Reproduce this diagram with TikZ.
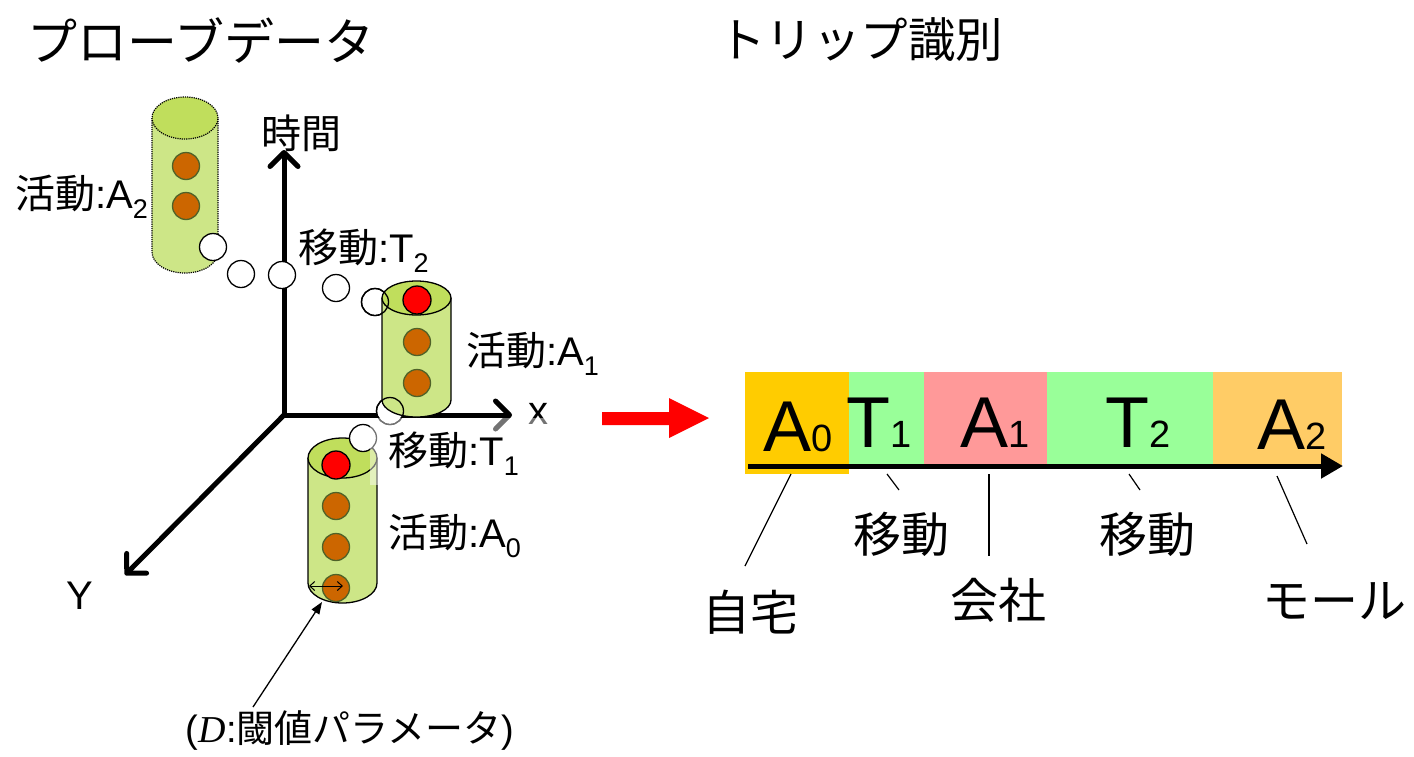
\documentclass[tikz,border=0pt]{standalone}
\usepackage{fontspec}
\setmainfont{Liberation Sans}
\newfontfamily\jp{Noto Sans CJK JP}
\newfontfamily\tms{Liberation Serif}
\usetikzlibrary{arrows.meta}
\definecolor{cylbody}{RGB}{205,230,135}
\definecolor{cyltop}{RGB}{192,222,92}
\definecolor{dotbrown}{RGB}{204,102,0}
\definecolor{dotedge}{RGB}{79,98,40}
\definecolor{barAzero}{RGB}{255,204,0}
\definecolor{barT}{RGB}{153,255,153}
\definecolor{barAone}{RGB}{255,153,153}
\definecolor{barAtwo}{RGB}{255,204,102}
\newcommand{\mysub}[1]{\raisebox{-10pt}{\fontsize{27}{30}\selectfont #1}}
\newcommand{\bsub}[1]{{\fontsize{38}{40}\selectfont #1}}
% cx, ytop, ybot, rx, ry, border style
\newcommand{\mycyl}[6]{%
  \fill[cylbody] ({#1-#4},#2) -- ({#1-#4},#3) arc[start angle=180,end angle=360,x radius=#4pt,y radius=#5pt] -- ({#1+#4},#2) -- cycle;
  \draw[#6] ({#1-#4},#2) -- ({#1-#4},#3) arc[start angle=180,end angle=360,x radius=#4pt,y radius=#5pt] -- ({#1+#4},#2);
  \filldraw[fill=cyltop,#6] (#1,#2) ellipse[x radius=#4pt,y radius=#5pt];
}
\tikzset{
  wc/.style={circle, draw=black, fill=white, line width=1.3pt, minimum size=27pt, inner sep=0pt},
  wco/.style={circle, draw=black, line width=1.3pt, minimum size=27pt, inner sep=0pt},
  bd/.style={circle, draw=dotedge, fill=dotbrown, line width=1.3pt, minimum size=27pt, inner sep=0pt},
  rd/.style={circle, draw=black, fill=red, line width=1.3pt, minimum size=28pt, inner sep=0pt},
  lbl/.style={font=\fontsize{40}{48}\selectfont, inner sep=0pt},
  blbl/.style={font=\fontsize{48}{56}\selectfont\jp, inner sep=0pt},
  big/.style={font=\fontsize{72}{80}\selectfont, inner sep=0pt, anchor=base},
  barbox/.style={inner sep=0pt, anchor=north west, draw=none},
  axis/.style={line width=5pt, line join=miter, >={Straight Barb[round,length=14pt,width=28pt]}},
  callout/.style={line width=1.2pt},
}
\begin{document}
\begin{tikzpicture}[x=1pt,y=-1pt]
\useasboundingbox (0,0) rectangle (1414,756);

% titles
\node[font=\fontsize{50}{58}\selectfont\jp, inner sep=0pt, anchor=west] (title1) at (27,40) {プローブデータ};
\node[font=\fontsize{47.5}{56}\selectfont\jp, inner sep=0pt, anchor=west] (title2) at (718,40) {トリップ識別};

% axes
\coordinate (O) at (284,415);
\coordinate (tz) at (284,150);
\coordinate (tx) at (512,415);
\coordinate (ty) at (125,575);
\draw[axis,<->] (tz) -- (O) -- (tx);
\draw[axis,->] (O) -- (ty);
\node[lbl] (ltime) at (301,133) {\jp 時間};
\node[lbl] (lx) at (538,414) {x};
\node[lbl] (lY) at (80,596) {Y};

% cylinder A2
\mycyl{185}{118}{252}{33}{21}{densely dotted, line width=1.2pt}
\node[bd] (a2d1) at (186,166) {};
\node[bd] (a2d2) at (186,206) {};
\node[wc] (w1) at (213,247) {};
\node[wc] (w2) at (241,274) {};
\node[wc] (w3) at (282,275) {};
\node[wc] (w4) at (336,288) {};
\node[wc] (w5) at (375,302) {};
\node[wc] (w6) at (390,411) {};

% cylinder A1
\mycyl{416.5}{298}{400}{34.5}{17}{line width=1.3pt}
\node[wco] (w5o) at (375,302) {};
\node[wco] (w6o) at (390,411) {};
\node[rd] (a1r) at (417,300) {};
\node[bd] (a1d1) at (417,342) {};
\node[bd] (a1d2) at (417,383) {};

% cylinder A0
\mycyl{342.5}{458}{583}{34.5}{20}{line width=1.3pt}
\node[rd] (a0r) at (336,465) {};
\node[bd] (a0d1) at (336,506) {};
\node[bd] (a0d2) at (336,547) {};
\node[bd] (a0d3) at (336,588) {};
\node[wc] (w7) at (363,438) {};
\coordinate (da) at (309,586);
\coordinate (db) at (343,586);
\draw[line width=1pt, {Straight Barb[length=5pt,width=9pt]}-{Straight Barb[length=5pt,width=9pt]}] (da) -- (db);

% labels left
\node[lbl, anchor=base west] (lA2) at (15,208) {{\jp 活動}:A\mysub{2}};
\node[lbl, anchor=base west] (lT2) at (298,262) {{\jp 移動}:T\mysub{2}};
\node[lbl, anchor=base west] (lA1) at (466,365) {{\jp 活動}:A\mysub{1}};
\fill[white, opacity=0.45] (370,418) rectangle (575,485);
\node[lbl, anchor=base west] (lT1) at (388,465) {{\jp 移動}:T\mysub{1}};
\node[lbl, anchor=base west] (lA0) at (388,547) {{\jp 活動}:A\mysub{0}};

% D parameter
\node[font=\fontsize{38}{44}\selectfont, inner sep=0pt] (dlab) at (350,730) {({\tms\itshape D}:{\jp 閾値パラメータ})};
\coordinate (dtail) at (253,707);
\coordinate (dhead) at (322,602);
\draw[line width=1.3pt, -{Triangle[length=12pt,width=9pt]}] (dtail) -- (dhead);

% red arrow
\fill[red] (602,412) -- (669,412) -- (669,398) -- (709,418) -- (669,438) -- (669,425) -- (602,425) -- cycle;

% bar
\node[barbox, fill=barAzero, minimum width=104pt, minimum height=102pt] (bA0) at (745,372) {};
\node[barbox, fill=barT, minimum width=75pt, minimum height=93pt] (bT1) at (849,372) {};
\node[barbox, fill=barAone, minimum width=123pt, minimum height=93pt] (bA1) at (924,372) {};
\node[barbox, fill=barT, minimum width=166pt, minimum height=93pt] (bT2) at (1047,372) {};
\node[barbox, fill=barAtwo, minimum width=129pt, minimum height=93pt] (bA2) at (1213,372) {};
\node[big] (tA0) at (798,451) {A\bsub{0}};
\node[big] (tT1) at (879,447) {T\bsub{1}};
\node[big] (tA1) at (995,447) {A\bsub{1}};
\node[big] (tT2) at (1138,447) {T\bsub{2}};
\node[big] (tA2) at (1292,449) {A\bsub{2}};
\coordinate (bs) at (748,466);
\coordinate (be) at (1343,466);
\draw[line width=5pt, -{Triangle[length=22pt,width=24pt]}] (bs) -- (be);

% callouts
\node[blbl] (home) at (750,612) {自宅};
\node[blbl] (move1) at (901,534) {移動};
\node[blbl] (office) at (998,600) {会社};
\node[blbl] (move2) at (1147,534) {移動};
\node[blbl] (mall) at (1334,601) {モール};
\coordinate (c1a) at (791,474); \coordinate (c1b) at (745,566);
\coordinate (c2a) at (887,474); \coordinate (c2b) at (899,490);
\coordinate (c3a) at (989,474); \coordinate (c3b) at (989,556);
\coordinate (c4a) at (1129,474); \coordinate (c4b) at (1140,490);
\coordinate (c5a) at (1277,476); \coordinate (c5b) at (1307,544);
\draw[callout] (c1a) -- (c1b);
\draw[callout] (c2a) -- (c2b);
\draw[callout] (c3a) -- (c3b);
\draw[callout] (c4a) -- (c4b);
\draw[callout] (c5a) -- (c5b);
\end{tikzpicture}
\end{document}
